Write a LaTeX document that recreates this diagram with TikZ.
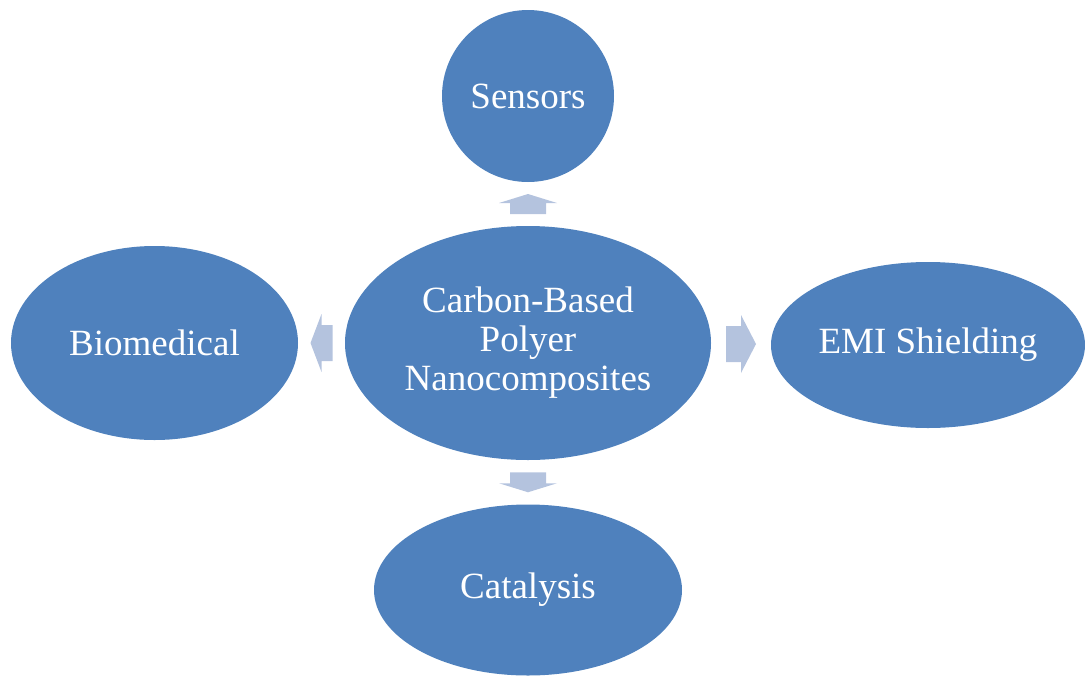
\documentclass[tikz,border=0pt]{standalone}
\usepackage{fontspec}
\setmainfont{Liberation Serif}
\usetikzlibrary{shapes.geometric,calc}
\definecolor{bubble}{HTML}{4F81BD}
\definecolor{arrowfill}{HTML}{B4C3DE}
\tikzset{
  bubble/.style={ellipse, fill=bubble, draw=none, inner sep=0pt, text=white,
    align=center, font=\fontsize{37}{39}\selectfont},
  pics/blockarrow/.style args={#1/#2}{code={
    \fill[arrowfill] (-#1,-18) -- ({#1-#2},-18) -- ({#1-#2},-29) -- (#1,0)
      -- ({#1-#2},29) -- ({#1-#2},18) -- (-#1,18) -- cycle;
  }}
}
\begin{document}
\begin{tikzpicture}[x=1pt,y=-1pt]
  \useasboundingbox (0,0) rectangle (1085,678);
  % hub and the four application areas
  \node[bubble, minimum width=366, minimum height=234] (hub) at (528,343)
    {Carbon-Based\\Polyer\\Nanocomposites};
  \node[bubble, minimum width=172, minimum height=172] (sensors) at (528,96) {Sensors};
  \node[bubble, minimum width=287, minimum height=194] (bio) at (154.5,343) {Biomedical};
  \node[bubble, minimum width=314, minimum height=166] (emi) at (928,345) {EMI Shielding};
  \node[bubble, minimum width=308, minimum height=171] (cat) at (528,590) {Catalysis};
  % block arrows between hub and each area
  \coordinate (mup) at ($(hub.north)!0.5!(sensors.south)$);
  \coordinate (mleft) at ($(hub.west)!0.5!(bio.east)$);
  \coordinate (mright) at ($(hub.east)!0.5!(emi.west)$);
  \coordinate (mdown) at ($(hub.south)!0.5!(cat.north)$);
  \pic[rotate=90] at (mup) {blockarrow=10/9};
  \pic[rotate=180] at (mleft) {blockarrow=11/11};
  \pic at (mright) {blockarrow=15/15};
  \pic[rotate=-90] at (mdown) {blockarrow=10/9};
\end{tikzpicture}
\end{document}
